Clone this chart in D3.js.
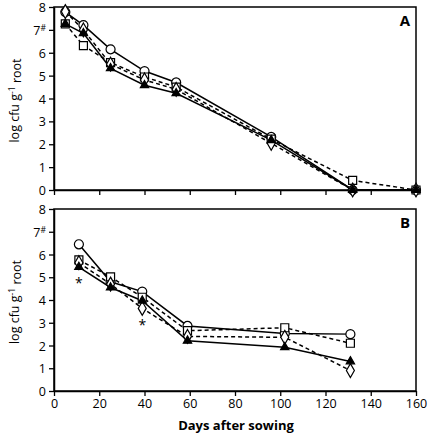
<!DOCTYPE html>
<html><head><meta charset="utf-8">
<script src="https://cdn.jsdelivr.net/npm/d3@7/dist/d3.min.js"></script>
<style>body{margin:0;background:#fff}svg{display:block}</style>
</head><body>
<svg id="c" width="432" height="439"></svg>
<script>
// ---- data ----
const daysA = [5, 13, 25, 40, 54, 96, 132, 160];
const circleA  = [7.78, 7.21, 6.15, 5.2, 4.7, 2.32, 0, 0];
const triangleA = [7.26, 6.85, 5.32, 4.58, 4.23, 2.18, 0, 0];
const squareA  = [7.26, 6.31, 5.57, 4.94, 4.5, 2.22, 0.42, 0];
const diamondA = [7.8, 7.0, 5.5, 4.81, 4.4, 2.04, 0, 0];

const daysB = [11, 25, 39, 59, 102, 131];
const circleB  = [6.45, 4.8, 4.37, 2.86, 2.53, 2.5];
const triangleB = [5.45, 4.55, 3.97, 2.21, 1.92, 1.3];
const squareB  = [5.76, 5.02, 4.12, 2.65, 2.78, 2.1];
const diamondB = [5.64, 4.7, 3.63, 2.4, 2.36, 0.9];

const starsB = [[11, 4.85], [39, 3.0]];   // significance marks
const xTicks = [0, 20, 40, 60, 80, 100, 120, 140, 160];
const yTicks = [0, 1, 2, 3, 4, 5, 6, 7, 8];

const series = [
  {name: "circle", shape: d3.symbolCircle, fill: "#fff", dash: null, size: 64, A: circleA, B: circleB},
  {name: "square", shape: d3.symbolSquare, fill: "#fff", dash: "4,3", size: 64, A: squareA, B: squareB},
  {name: "diamond", shape: d3.symbolDiamond, fill: "#fff", dash: "4,3", size: 55, A: diamondA, B: diamondB},
  {name: "triangle", shape: d3.symbolTriangle, fill: "#000", dash: null, size: 30, A: triangleA, B: triangleB}
];

const svg = d3.select("#c");
const font = "'Open Sans', 'DejaVu Sans', sans-serif";
const x = d3.scaleLinear().domain([0, 160]).range([54, 416]);

function panel(yTop, yBot, days, key, label, showX) {
  const y = d3.scaleLinear().domain([0, 8]).range([yBot, yTop]);
  const g = svg.append("g");
  g.append("rect").attr("x", x(0)).attr("y", y(8)).attr("width", x(160) - x(0)).attr("height", y(0) - y(8))
    .attr("fill", "none").attr("stroke", "#000").attr("stroke-width", 1.5);
  const xa = g.append("g").attr("transform", `translate(0,${y(0)})`)
    .call(d3.axisBottom(x).tickValues(xTicks).tickSize(5).tickSizeOuter(0).tickPadding(3)
      .tickFormat(showX ? d3.format("d") : () => ""));
  const ya = g.append("g").attr("transform", `translate(${x(0)},0)`)
    .call(d3.axisLeft(y).tickValues(yTicks).tickSize(5).tickSizeOuter(0).tickPadding(3).tickFormat(d3.format("d")));
  [xa, ya].forEach(a => {
    a.select(".domain").attr("stroke-width", 1.5);
    a.selectAll(".tick line").attr("stroke-width", 1.3);
    a.selectAll("text").attr("font-family", font).attr("font-size", 12.5).attr("fill", "#000");
  });
  ya.selectAll(".tick text").filter(d => d === 7).each(function() {
    const t = d3.select(this);
    t.text("7").append("tspan").attr("font-size", 8.5).attr("dy", "-0.45em").text("#");
  });
  ya.selectAll(".tick text").attr("dy", "0.36em");
  series.forEach(s => {
    const pts = days.map((d, i) => [d, s[key][i]]);
    g.append("path").datum(pts)
      .attr("d", d3.line().x(p => x(p[0])).y(p => y(p[1])))
      .attr("fill", "none").attr("stroke", "#000").attr("stroke-width", 1.5)
      .attr("stroke-dasharray", s.dash);
  });
  series.forEach(s => {
    g.selectAll(null).data(days.map((d, i) => [d, s[key][i]])).enter().append("path")
      .attr("d", d3.symbol().type(s.shape).size(s.size))
      .attr("transform", p => `translate(${x(p[0])},${y(p[1])})`)
      .attr("fill", s.fill).attr("stroke", "#000").attr("stroke-width", 1.2);
  });
  g.append("text").attr("x", 405).attr("y", yTop + 19).attr("text-anchor", "middle")
    .attr("font-family", font).attr("font-weight", "bold").attr("font-size", 15).text(label);
  const ty = g.append("text").attr("transform", `translate(19,${(yTop + yBot) / 2 + 2}) rotate(-90)`)
    .attr("text-anchor", "middle").attr("font-family", font).attr("font-size", 12.5).attr("fill", "#000");
  ty.append("tspan").text("log cfu g");
  ty.append("tspan").attr("font-size", 8.5).attr("dy", "-0.5em").text("-1");
  ty.append("tspan").attr("dy", "0.5em").text(" root");
  return y;
}

panel(7, 190, daysA, "A", "A", false);
const yB = panel(209, 391, daysB, "B", "B", true);

svg.selectAll(null).data(starsB).enter().append("text")
  .attr("x", d => x(d[0])).attr("y", d => yB(d[1]) + 7).attr("text-anchor", "middle")
  .attr("font-family", font).attr("font-size", 14).text("*");

svg.append("text").attr("x", 236).attr("y", 430).attr("text-anchor", "middle")
  .attr("font-family", font).attr("font-weight", "bold").attr("font-size", 13).text("Days after sowing");
</script>
</body></html>
